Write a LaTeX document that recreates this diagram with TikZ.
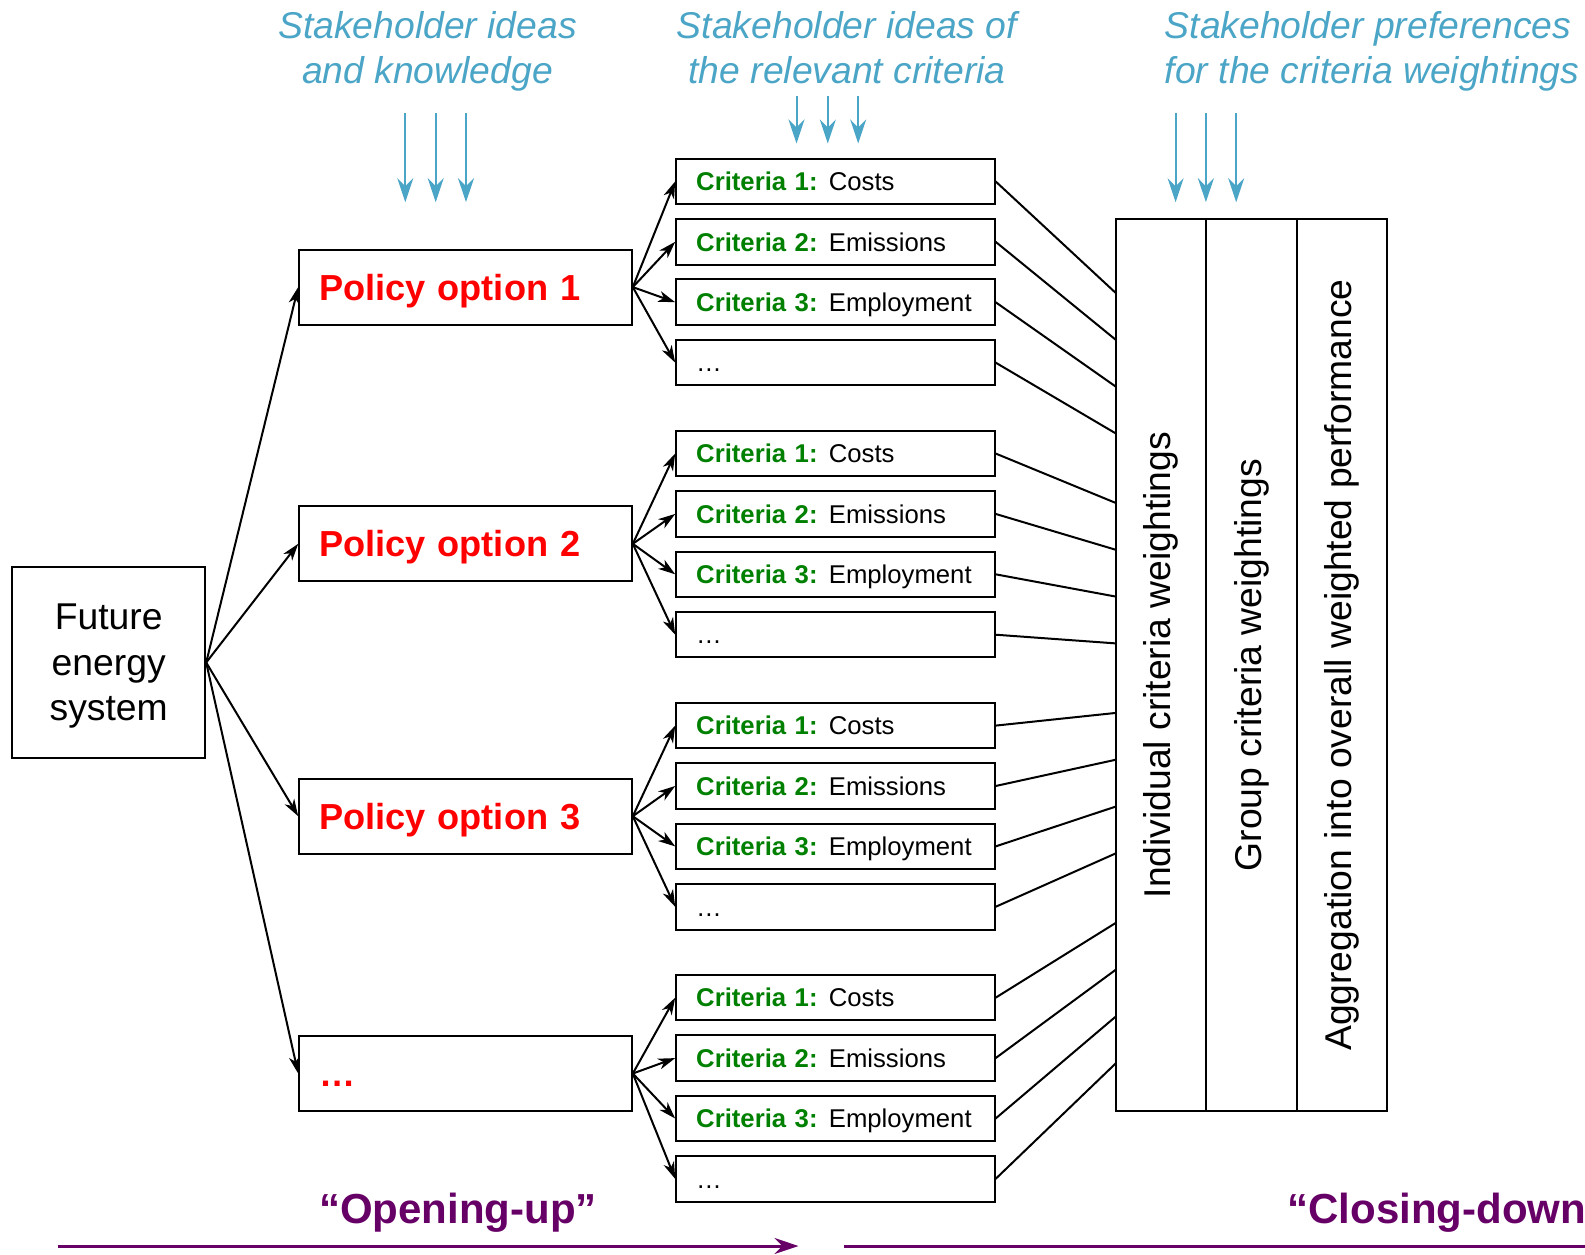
\documentclass[tikz,border=0pt]{standalone}
\usepackage{fontspec}
\setmainfont{Liberation Sans}
\usepackage{tikz}
\usetikzlibrary{arrows.meta,positioning}
\definecolor{stakeblue}{RGB}{75,165,198}
\definecolor{critgreen}{RGB}{0,128,0}
\definecolor{phasepurple}{RGB}{102,0,102}
\newcommand{\crit}[2]{\mbox{\textcolor{critgreen}{\bfseries Criteria #1:}\hspace{-0.8pt} #2}}
\tikzset{
    %Define standard arrow tip
    >={Stealth[length=8.5pt,width=5.5pt,inset=2.5pt]},
    %Define style for boxes
    systembox/.style={
           rectangle,
           draw=black, line width=1pt,
           minimum width=96.5pt,
           minimum height=95.5pt,
           text depth=-3pt,
           align=center,
           font=\fontsize{18.65pt}{22.7pt}\selectfont},
    policybox/.style={
           rectangle,
           draw=black, line width=1pt,
           text width=146.5pt,
           inner xsep=9.9pt,
           text height=13pt,
           text depth=0pt,
           minimum height=37.4pt,
           align=left,
           text=red,
           font=\fontsize{18.1pt}{22pt}\selectfont\bfseries},
    critbox/.style={
           rectangle,
           draw=black, line width=1pt,
           text width=139.2pt,
           inner xsep=10pt,
           inner ysep=0pt,
           text height=9.2pt,
           text depth=0pt,
           minimum height=22.75pt,
           align=left,
           font=\fontsize{12.85pt}{16pt}\selectfont},
    colbox/.style={
           rectangle,
           draw=black, line width=1pt,
           minimum width=45.3pt,
           minimum height=445.8pt,
           inner sep=0pt, outer sep=0pt,
           font=\fontsize{18.65pt}{22pt}\selectfont},
    ideas/.style={
           text=stakeblue,
           align=center,
           inner sep=0pt,
           font=\fontsize{18.65pt}{22.75pt}\selectfont\itshape},
    phase/.style={
           text=phasepurple,
           inner sep=0pt,
           font=\fontsize{21pt}{24pt}\selectfont\bfseries},
    % Define arrow style
    pil/.style={->, line width=1pt},
    link/.style={line width=1pt},
    feed/.style={-{Stealth[length=12pt,width=8pt,inset=4pt]}, draw=stakeblue, line width=1pt},
    flow/.style={-{Stealth[length=12pt,width=8pt,inset=4pt]}, draw=phasepurple, line width=1.5pt}
}

\begin{document}
\begin{tikzpicture}[x=0.5pt,y=-0.5pt,node distance=6.45pt]
\clip (0,0) rectangle (1585,1254);
 %nodes
\node[systembox] (fes) at (108.7,662.5) {Future\\energy\\system};
\node[policybox] (p1) at (465.5,287.1) {Policy option 1};
\node[policybox] (p2) at (465.5,543.8) {Policy option 2};
\node[policybox] (p3) at (465.5,816.2) {Policy option 3};
\node[policybox] (p4) at (465.5,1073.5) {…};

\node[critbox] (c11) at (835.4,181.4) {\crit{1}{Costs}};
\node[critbox, below=of c11] (c12) {\crit{2}{Emissions}};
\node[critbox, below=of c12] (c13) {\crit{3}{Employment}};
\node[critbox, below=of c13] (c14) {…};
\node[critbox, below=21.7pt of c14] (c21) {\crit{1}{Costs}};
\node[critbox, below=of c21] (c22) {\crit{2}{Emissions}};
\node[critbox, below=of c22] (c23) {\crit{3}{Employment}};
\node[critbox, below=of c23] (c24) {…};
\node[critbox, below=21.7pt of c24] (c31) {\crit{1}{Costs}};
\node[critbox, below=of c31] (c32) {\crit{2}{Emissions}};
\node[critbox, below=of c32] (c33) {\crit{3}{Employment}};
\node[critbox, below=of c33] (c34) {…};
\node[critbox, below=21.7pt of c34] (c41) {\crit{1}{Costs}};
\node[critbox, below=of c41] (c42) {\crit{2}{Emissions}};
\node[critbox, below=of c42] (c43) {\crit{3}{Employment}};
\node[critbox, below=of c43] (c44) {…};

\node[colbox] (col1) at (1160.9,665.1) {\rotatebox{90}{Individual criteria weightings}};
\node[colbox, right=0pt of col1] (col2) {\rotatebox{90}{Group criteria weightings}};
\node[colbox, right=0pt of col2] (col3) {\rotatebox{90}{Aggregation into overall weighted performance}};

\node[ideas, anchor=base] (knowledge) at (427.5,83.9) {Stakeholder ideas\\and knowledge};
\node[ideas, anchor=base] (relevant) at (847,83.9) {Stakeholder ideas of\\the relevant criteria};
\node[ideas, align=left, anchor=base west] (prefs) at (1164.4,83.9) {Stakeholder preferences\\for the criteria weightings};

\node[phase, anchor=base] (opening) at (458,1223) {“Opening-up”};
\node[phase, anchor=base west] (closing) at (1287,1223) {“Closing-down”};
\coordinate (o1) at (57.6,1246);
\coordinate (o2) at (798.5,1246);
\coordinate (d1) at (844,1246);
\coordinate (d2) at (1620,1246);

% ends on the weighting box
\coordinate (e11) at (1115.9,293.1);
\coordinate (e12) at (1115.9,339.9);
\coordinate (e13) at (1115.9,386.7);
\coordinate (e14) at (1115.9,433.5);
\coordinate (e21) at (1115.9,503.0);
\coordinate (e22) at (1115.9,549.8);
\coordinate (e23) at (1115.9,596.6);
\coordinate (e24) at (1115.9,643.4);
\coordinate (e31) at (1115.9,712.9);
\coordinate (e32) at (1115.9,759.7);
\coordinate (e33) at (1115.9,806.5);
\coordinate (e34) at (1115.9,853.3);
\coordinate (e41) at (1115.9,922.8);
\coordinate (e42) at (1115.9,969.6);
\coordinate (e43) at (1115.9,1016.4);
\coordinate (e44) at (1115.9,1063.2);

 %edges
\path[pil]
    (fes.east) edge (p1.west) edge (p2.west) edge (p3.west) edge (p4.west)
    (p1.east) edge (c11.west) edge (c12.west) edge (c13.west) edge (c14.west)
    (p2.east) edge (c21.west) edge (c22.west) edge (c23.west) edge (c24.west)
    (p3.east) edge (c31.west) edge (c32.west) edge (c33.west) edge (c34.west)
    (p4.east) edge (c41.west) edge (c42.west) edge (c43.west) edge (c44.west);
\path[link]
    (c11.east) edge (e11) (c12.east) edge (e12) (c13.east) edge (e13) (c14.east) edge (e14)
    (c21.east) edge (e21) (c22.east) edge (e22) (c23.east) edge (e23) (c24.east) edge (e24)
    (c31.east) edge (e31) (c32.east) edge (e32) (c33.east) edge (e33) (c34.east) edge (e34)
    (c41.east) edge (e41) (c42.east) edge (e42) (c43.east) edge (e43) (c44.east) edge (e44);

\foreach \x in {405.3,435.7,466}
    \draw[feed] (\x,113.2) -- (\x,202.2);
\foreach \x in {796.5,827.8,858.2}
    \draw[feed] (\x,96) -- (\x,143.5);
\foreach \x in {1175.6,1205.9,1236.2}
    \draw[feed] (\x,113.2) -- (\x,202.2);

\draw[flow] (o1) -- (o2);
\draw[flow] (d1) -- (d2);
\end{tikzpicture}
\end{document}
